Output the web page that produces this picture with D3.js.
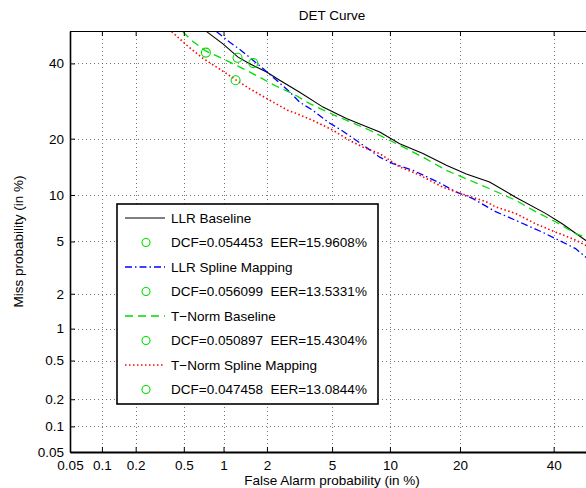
<!DOCTYPE html>
<html>
<head>
<meta charset="utf-8">
<script src="https://cdn.jsdelivr.net/npm/d3@7"></script>
<style>
  body { margin: 0; background: #fff; }
  svg { display: block; font-family: "Liberation Sans", Arial, Helvetica, sans-serif; }
</style>
</head>
<body>
<div id="chart"></div>
<script>
// axis ticks (percent)
const tickValues = [0.05, 0.1, 0.2, 0.5, 1, 2, 5, 10, 20, 40];
const tickLabels = ["0.05", "0.1", "0.2", "0.5", "1", "2", "5", "10", "20", "40"];

// curves: [false alarm %, miss %]
const llrBaseline = [
  [0.75, 49.8], [0.99, 46.0], [1.27, 41.9], [1.53, 39.9], [1.99, 37.4], [2.42, 35.0],
  [3.23, 31.6], [4.44, 27.6], [6.00, 24.7], [7.79, 22.6], [8.92, 21.5], [11.12, 18.9],
  [14.14, 16.9], [17.69, 14.7], [21.13, 13.2], [25.6, 11.9], [31.12, 9.7], [38.04, 7.7],
  [42.09, 6.6], [47.87, 5.1], [49.5, 4.8]
];
const llrSpline = [
  [0.89, 49.8], [1.11, 46.5], [1.34, 43.9], [1.62, 40.9], [1.89, 38.4], [2.31, 35.0],
  [2.74, 32.1], [3.23, 28.9], [3.89, 26.7], [4.75, 23.8], [5.64, 21.9], [6.79, 19.6],
  [7.79, 17.9], [8.92, 16.2], [10.34, 15.0], [12.78, 13.8], [16.35, 11.9], [19.37, 10.4],
  [22.35, 9.5], [26.83, 7.9], [31.12, 6.95], [37.26, 5.8], [41.26, 5.1], [45.38, 4.45],
  [47.87, 3.87], [49.5, 3.6]
];
const tnormBaseline = [
  [0.49, 49.8], [0.59, 46.7], [0.73, 43.9], [0.99, 41.4], [1.31, 38.9], [1.79, 35.9],
  [2.25, 33.5], [2.74, 31.8], [2.94, 31.2], [3.71, 28.5], [5.18, 25.5], [6.51, 23.6],
  [7.95, 21.9], [9.61, 20.0], [11.12, 18.6], [14.14, 16.2], [17.69, 13.8], [21.13, 12.4],
  [24.94, 11.1], [31.12, 9.3], [35.68, 7.9], [40.45, 6.8], [45.38, 5.67], [47.87, 5.37],
  [49.5, 5.1]
];
const tnormSpline = [
  [0.40, 49.8], [0.53, 45.5], [0.71, 41.4], [0.89, 38.9], [1.24, 35.0], [1.53, 32.6],
  [2.09, 29.4], [2.74, 26.7], [2.94, 26.3], [3.89, 24.2], [5.06, 21.9], [6.25, 19.6],
  [7.35, 18.2], [8.92, 16.9], [11.12, 14.4], [13.68, 13.0], [17.14, 11.1], [21.13, 9.95],
  [24.94, 9.1], [26.83, 8.45], [31.12, 7.7], [35.68, 6.6], [40.45, 5.8], [44.56, 5.24],
  [47.87, 4.70], [49.5, 4.5]
];

// minimum DCF operating points, same order as series
const dcfPoints = [[1.26, 41.7], [1.62, 40.1], [0.74, 43.3], [1.22, 35.0]];

const seriesNames = ["LLR Baseline", "LLR Spline Mapping", "T\u2212Norm Baseline", "T\u2212Norm Spline Mapping"];
const dcfValues = ["0.054453", "0.056099", "0.050897", "0.047458"];
const eerValues = ["15.9608", "13.5331", "15.4304", "13.0844"];

const series = [llrBaseline, llrSpline, tnormBaseline, tnormSpline];
const styles = [
  { color: "#000000", dash: null, width: 1.1 },
  { color: "#0000ff", dash: "7,3,1.5,3", width: 1.3 },
  { color: "#00dd00", dash: "8,5", width: 1.3 },
  { color: "#ff0000", dash: "1.5,2.5", width: 1.6 }
];
const markerColor = "#00dd00";
const fontSize = 13.5;

// inverse normal CDF (Acklam)
function probit(p) {
  const a = [-3.969683028665376e+01, 2.209460984245205e+02, -2.759285104469687e+02, 1.383577518672690e+02, -3.066479806614716e+01, 2.506628277459239e+00];
  const b = [-5.447609879822406e+01, 1.615858368580409e+02, -1.556989798598866e+02, 6.680131188771972e+01, -1.328068155288572e+01];
  const c = [-7.784894002430293e-03, -3.223964580411365e-01, -2.400758277161838e+00, -2.549671348283180e+00, 4.374664141464968e+00, 2.938163982698783e+00];
  const d = [7.784695709041462e-03, 3.224671290700398e-01, 2.445134137142996e+00, 3.754408661907416e+00];
  const pl = 0.02425;
  if (p < pl) {
    const q = Math.sqrt(-2 * Math.log(p));
    return (((((c[0]*q+c[1])*q+c[2])*q+c[3])*q+c[4])*q+c[5]) / ((((d[0]*q+d[1])*q+d[2])*q+d[3])*q+1);
  }
  if (p <= 1 - pl) {
    const q = p - 0.5, r = q * q;
    return (((((a[0]*r+a[1])*r+a[2])*r+a[3])*r+a[4])*r+a[5])*q / (((((b[0]*r+b[1])*r+b[2])*r+b[3])*r+b[4])*r+1);
  }
  const q = Math.sqrt(-2 * Math.log(1 - p));
  return -(((((c[0]*q+c[1])*q+c[2])*q+c[3])*q+c[4])*q+c[5]) / ((((d[0]*q+d[1])*q+d[2])*q+d[3])*q+1);
}

// wrap a linear scale so it takes percentages on a normal-deviate axis
function probitScale(lin) {
  const s = v => lin(probit(v / 100));
  s.range = () => lin.range();
  s.domain = () => lin.domain();
  s.copy = () => probitScale(lin.copy());
  return s;
}

const width = 586, height = 488;
const margin = { left: 70, top: 31, right: 594, bottom: 452 };

const x = probitScale(d3.scaleLinear()
  .domain([probit(0.0005), probit(0.5)])
  .range([margin.left, margin.right]));
const y = probitScale(d3.scaleLinear()
  .domain([probit(0.0005), probit(0.5)])
  .range([margin.bottom, margin.top]));

const svg = d3.select('#chart')
  .append('svg')
  .attr('width', width)
  .attr('height', height);

svg.append('defs').append('clipPath')
  .attr('id', 'plot-clip')
  .append('rect')
  .attr('x', margin.left)
  .attr('y', margin.top)
  .attr('width', margin.right - margin.left)
  .attr('height', margin.bottom - margin.top);

// grid
const grid = svg.append('g')
  .attr('stroke', '#555')
  .attr('stroke-width', 0.8)
  .attr('stroke-dasharray', '1,3');

grid.selectAll('.vgrid')
  .data(tickValues)
  .enter()
  .append('line')
  .attr('x1', d => Math.round(x(d)) + 0.5)
  .attr('x2', d => Math.round(x(d)) + 0.5)
  .attr('y1', margin.top)
  .attr('y2', margin.bottom);

grid.selectAll('.hgrid')
  .data(tickValues)
  .enter()
  .append('line')
  .attr('y1', d => Math.round(y(d)) + 0.5)
  .attr('y2', d => Math.round(y(d)) + 0.5)
  .attr('x1', margin.left)
  .attr('x2', margin.right);

// curves
const line = d3.line()
  .x(d => x(d[0]))
  .y(d => y(d[1]));

const curves = svg.append('g').attr('clip-path', 'url(#plot-clip)');

curves.selectAll('path')
  .data(series)
  .enter()
  .append('path')
  .attr('d', line)
  .attr('fill', 'none')
  .attr('stroke', (d, i) => styles[i].color)
  .attr('stroke-width', (d, i) => styles[i].width)
  .attr('stroke-dasharray', (d, i) => styles[i].dash);

curves.selectAll('circle')
  .data(dcfPoints)
  .enter()
  .append('circle')
  .attr('cx', d => x(d[0]))
  .attr('cy', d => y(d[1]))
  .attr('r', 4.5)
  .attr('fill', 'none')
  .attr('stroke', markerColor)
  .attr('stroke-width', 1.1);

// axes
const xAxis = d3.axisBottom(x)
  .tickValues(tickValues)
  .tickFormat((d, i) => tickLabels[i])
  .tickSizeInner(-5)
  .tickSizeOuter(0)
  .tickPadding(8);

const yAxis = d3.axisLeft(y)
  .tickValues(tickValues)
  .tickFormat((d, i) => tickLabels[i])
  .tickSizeInner(-5)
  .tickSizeOuter(0)
  .tickPadding(6);

const topAxis = d3.axisTop(x)
  .tickValues(tickValues)
  .tickFormat('')
  .tickSizeInner(-5)
  .tickSizeOuter(0);

svg.append('g')
  .attr('transform', 'translate(0,' + margin.top + ')')
  .call(topAxis)
  .call(g => g.select('.domain').attr('stroke-width', 1.2));

svg.append('g')
  .attr('transform', 'translate(0,' + margin.bottom + ')')
  .call(xAxis)
  .call(g => g.select('.domain').attr('stroke-width', 2))
  .call(g => g.selectAll('text').attr('font-size', fontSize).attr('fill', '#000').style('font-family', 'inherit'));

svg.append('g')
  .attr('transform', 'translate(' + margin.left + ',0)')
  .call(yAxis)
  .call(g => g.select('.domain').attr('stroke-width', 1.6))
  .call(g => g.selectAll('text').attr('font-size', fontSize).attr('fill', '#000').style('font-family', 'inherit'));

// titles
svg.append('text')
  .text('DET Curve')
  .attr('x', (margin.left + margin.right) / 2)
  .attr('y', 20)
  .attr('text-anchor', 'middle')
  .attr('font-size', fontSize);

svg.append('text')
  .text('False Alarm probability (in %)')
  .attr('x', (margin.left + margin.right) / 2)
  .attr('y', 485)
  .attr('text-anchor', 'middle')
  .attr('font-size', fontSize);

svg.append('text')
  .text('Miss probability (in %)')
  .attr('transform', 'translate(23,' + ((margin.top + margin.bottom) / 2) + ') rotate(-90)')
  .attr('text-anchor', 'middle')
  .attr('font-size', fontSize);

// legend
const legendX = 117, legendY = 204, legendW = 261, legendH = 200, rowH = 24.5;
const legend = svg.append('g');

legend.append('rect')
  .attr('x', legendX)
  .attr('y', legendY)
  .attr('width', legendW)
  .attr('height', legendH)
  .attr('fill', '#fff')
  .attr('stroke', '#000')
  .attr('stroke-width', 1.6);

const rows = legend.selectAll('.entry')
  .data(seriesNames)
  .enter()
  .append('g')
  .attr('transform', (d, i) => 'translate(' + legendX + ',' + (legendY + 14 + i * 2 * rowH) + ')');

rows.append('line')
  .attr('x1', 8)
  .attr('x2', 48)
  .attr('stroke', (d, i) => styles[i].color)
  .attr('stroke-width', (d, i) => styles[i].width)
  .attr('stroke-dasharray', (d, i) => styles[i].dash);

rows.append('text')
  .text(d => d)
  .attr('x', 54)
  .attr('dy', '0.35em')
  .attr('font-size', fontSize);

rows.append('circle')
  .attr('cx', 29)
  .attr('cy', rowH)
  .attr('r', 4)
  .attr('fill', 'none')
  .attr('stroke', markerColor)
  .attr('stroke-width', 1.1);

rows.append('text')
  .text((d, i) => 'DCF=' + dcfValues[i] + '\u00A0\u00A0EER=' + eerValues[i] + '%')
  .attr('x', 54)
  .attr('y', rowH)
  .attr('dy', '0.35em')
  .attr('font-size', fontSize);
</script>
</body>
</html>
